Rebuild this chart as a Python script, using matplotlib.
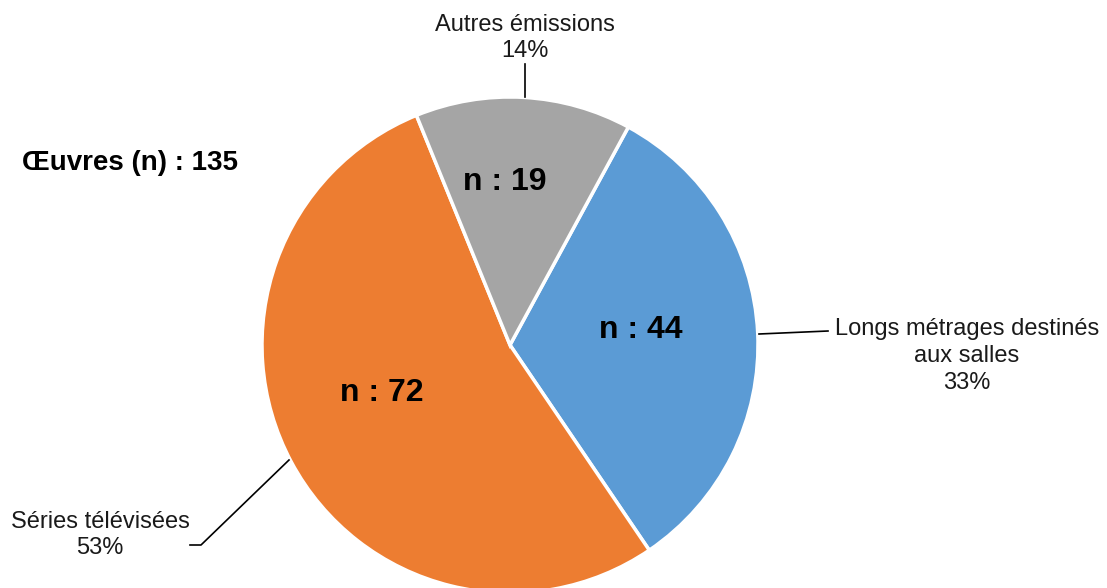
import matplotlib.pyplot as plt

categories = ['Longs métrages destinés\naux salles', 'Séries télévisées', 'Autres émissions']
counts = [44, 72, 19]
colors = ['#5B9BD5', '#ED7D31', '#A5A5A5']
total = sum(counts)

plt.rcParams['font.family'] = ['Liberation Sans', 'DejaVu Sans']

fig = plt.figure(figsize=(11.07, 5.88), dpi=100)
ax = fig.add_axes([0, 0, 1, 1])

H = 588
cx, cy, R = 510, H - 345, 248

wedges, _ = ax.pie(counts, colors=colors, startangle=61.5, counterclock=False,
                   center=(cx, cy), radius=R,
                   wedgeprops=dict(edgecolor='white', linewidth=2.5))
ax.set_xlim(0, 1107)
ax.set_ylim(0, H)
ax.set_aspect('equal')
ax.axis('off')

# n : labels inside slices
inner_pos = [(641, 330), (382, 393), (505, 182)]
for (px, py), n in zip(inner_pos, counts):
    ax.text(px, H - py, f'n : {n}', ha='center', va='center',
            fontsize=23, fontweight='bold', color='black')

# outer labels with percentages
pct = [round(100 * c / total) for c in counts]
outer_pos = [(967, 356), (100, 535), (525, 38)]
for (px, py), cat, p in zip(outer_pos, categories, pct):
    ax.text(px, H - py, f'{cat}\n{p}%', ha='center', va='center',
            fontsize=17, color='#1a1a1a', linespacing=1.28)

# leader lines
ax.plot([759, 828], [H - 334, H - 331], color='black', lw=1.2)
ax.plot([289, 201, 190], [H - 460, H - 545, H - 545], color='black', lw=1.2)
ax.plot([525, 525], [H - 64, H - 97], color='black', lw=1.2)

ax.text(22, H - 163, 'Œuvres (n) : 135', ha='left', va='center',
        fontsize=20, fontweight='bold')

fig.savefig('out.png', dpi=100)
